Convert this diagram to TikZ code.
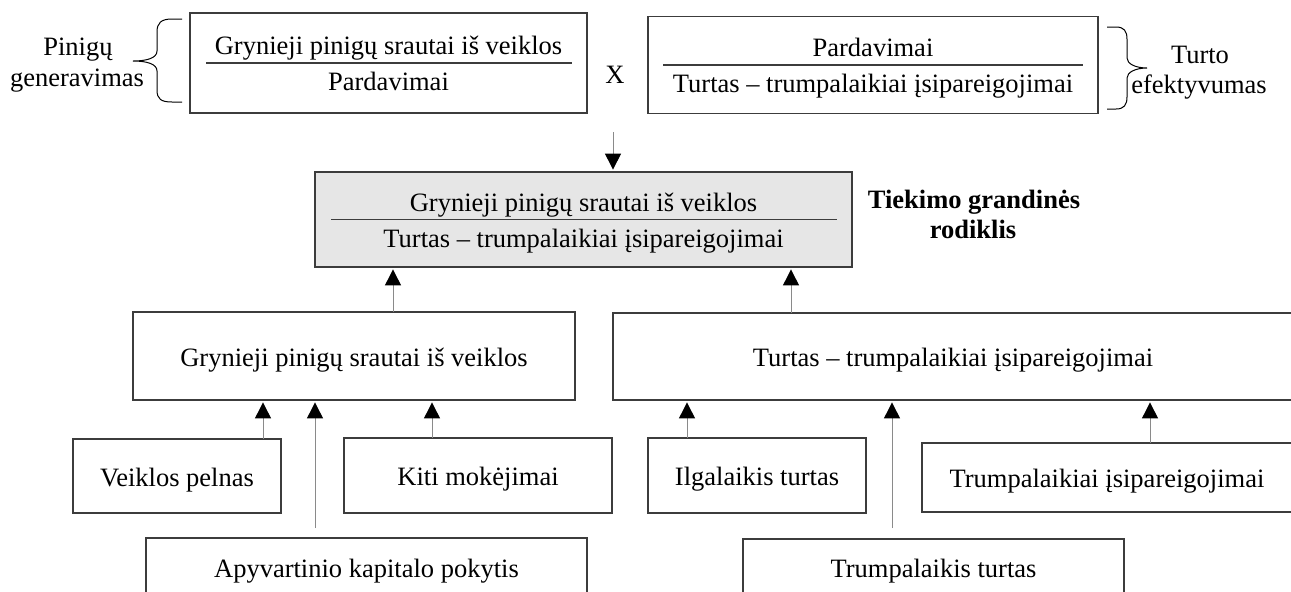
\documentclass[tikz,border=0pt]{standalone}
\usepackage{fontspec}
\setmainfont{Liberation Serif}
\usetikzlibrary{arrows.meta,calc}
\definecolor{edge}{HTML}{3C3C3C}
\definecolor{wire}{HTML}{8A8A8A}
\definecolor{shade}{HTML}{E6E6E6}

\begin{document}
\begin{tikzpicture}[x=0.5pt,y=-0.5pt,
  font=\fontsize{13.25}{15.5}\selectfont,
  box/.style={draw=edge, line width=0.6pt, inner sep=0pt, outer sep=0pt,
              text height=12pt, text depth=2pt},
  lbl/.style={anchor=base, inner sep=0pt, outer sep=0pt},
  rule/.style={draw=edge, line width=0.6pt},
  feed/.style={draw=wire, line width=0.5pt, shorten >=1.2pt,
               -{Triangle[length=8pt,width=8pt,color=black]}},
  brace/.style={draw=black, line width=0.5pt}
]
\useasboundingbox (0,0) rectangle (1291,591);
\clip (0,0) rectangle (1291,591);

% --- top row: the two factors ---
\node[box, minimum width=198.5pt, minimum height=50pt] (cash) at (388.5,63) {};
\node[lbl] (cashnum) at ($(cash.center)+(0,-8.5)$) {Grynieji pinigų srautai iš veiklos};
\node[lbl] (cashden) at ($(cash.center)+(0,27.5)$) {Pardavimai};
\draw[rule] ($(cash.west)+(16,0)$) -- ($(cash.east)+(-15,0)$);

\node[lbl] (times) at (615,83.3) {X};

\node[box, minimum width=225pt, minimum height=48.5pt] (turn) at (873,65) {};
\node[lbl] (turnnum) at ($(turn.center)+(0,-8.5)$) {Pardavimai};
\node[lbl] (turnden) at ($(turn.center)+(0,27.5)$) {Turtas – trumpalaikiai įsipareigojimai};
\draw[rule] ($(turn.west)+(15,0)$) -- ($(turn.east)+(-15,0)$);

% braces and their captions
\draw[brace] (182,19) -- (172,19) .. controls (161,19) and (157,23) .. (157,32)
  -- (157,51) .. controls (157,58) and (147,61) .. (133,61)
  .. controls (147,61) and (157,64) .. (157,71)
  -- (157,90) .. controls (157,99) and (161,102) .. (172,102) -- (182,102);
\node[lbl] (gen1) at (78,55) {Pinigų};
\node[lbl] (gen2) at (77,86.7) {generavimas};

\draw[brace] (1107,27) -- (1116,27) .. controls (1124,27) and (1127,31) .. (1127,39)
  -- (1127,58) .. controls (1127,64) and (1136,68) .. (1147,68)
  .. controls (1136,68) and (1127,72) .. (1127,78)
  -- (1127,97) .. controls (1127,105) and (1124,109) .. (1116,109) -- (1107,109);
\node[lbl] (eff1) at (1200,63.3) {Turto};
\node[lbl] (eff2) at (1199,93.3) {efektyvumas};

% --- the ratio ---
\node[box, fill=shade, minimum width=268.5pt, minimum height=47.5pt] (ratio) at (583.5,219.5) {};
\node[lbl] (ratnum) at ($(ratio.center)+(0,-8.5)$) {Grynieji pinigų srautai iš veiklos};
\node[lbl] (ratden) at ($(ratio.center)+(0,27.5)$) {Turtas – trumpalaikiai įsipareigojimai};
\draw[rule] ($(ratio.west)+(16,0)$) -- ($(ratio.east)+(-15,0)$);

\node[lbl, font=\fontsize{13.25}{15.5}\selectfont\bfseries] (title1) at (974,208.3) {Tiekimo grandinės};
\node[lbl, font=\fontsize{13.25}{15.5}\selectfont\bfseries] (title2) at (973,238.3) {rodiklis};

% --- components ---
\node[box, minimum width=221pt, minimum height=44pt] (gp) at (354,356) {Grynieji pinigų srautai iš veiklos};
\node[box, minimum width=340pt, minimum height=43.5pt] (tt) at (953,356.5) {Turtas – trumpalaikiai įsipareigojimai};

\node[box, minimum width=104pt, minimum height=37pt] (vp) at (177,476) {Veiklos pelnas};
\node[box, minimum width=134pt, minimum height=37.5pt] (km) at (478,475.5) {Kiti mokėjimai};
\node[box, minimum width=220.5pt, minimum height=29pt] (ak) at (366.5,567) {Apyvartinio kapitalo pokytis};

\node[box, minimum width=109pt, minimum height=37.5pt] (il) at (757,475.5) {Ilgalaikis turtas};
\node[box, minimum width=185pt, minimum height=34.5pt] (ti) at (1107,477.5) {Trumpalaikiai įsipareigojimai};
\node[box, minimum width=190.5pt, minimum height=28.5pt] (tr) at (933.5,567.5) {Trumpalaikis turtas};

% --- connectors ---
\coordinate (xin) at (613,132);
\coordinate (c1) at (393,0);
\coordinate (c2) at (791,0);
\coordinate (c3) at (263,0);
\coordinate (c5) at (432,0);
\coordinate (c6) at (687,0);
\coordinate (c8) at (1150,0);
\coordinate (akin) at (315,528);
\coordinate (trin) at (892,528);

\draw[feed] (xin) -- (ratio.north -| xin);
\draw[feed] (gp.north -| c1) -- (ratio.south -| c1);
\draw[feed] (tt.north -| c2) -- (ratio.south -| c2);

\draw[feed] (vp.north -| c3) -- (gp.south -| c3);
\draw[feed] (akin) -- (gp.south -| akin);
\draw[feed] (km.north -| c5) -- (gp.south -| c5);

\draw[feed] (il.north -| c6) -- (tt.south -| c6);
\draw[feed] (trin) -- (tt.south -| trin);
\draw[feed] (ti.north -| c8) -- (tt.south -| c8);
\end{tikzpicture}
\end{document}
